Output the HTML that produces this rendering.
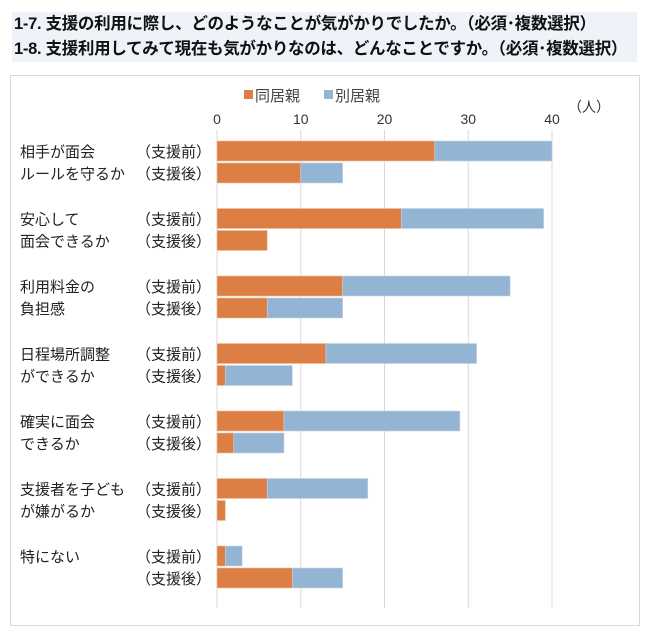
<!DOCTYPE html>
<html><head><meta charset="utf-8"><style>
body{margin:0;width:650px;height:640px;background:#fff;font-family:"Liberation Sans","Noto Sans CJK JP",sans-serif;overflow:hidden}
#title{position:absolute;left:12px;top:12px;width:625px;height:50px;background:#eef3fa}
#title div{font-size:16.5px;font-weight:bold;color:#111;line-height:25px;padding-left:2px;white-space:nowrap;letter-spacing:-0.3px}
#box{position:absolute;left:10px;top:75px;width:630px;height:551px;border:1px solid #d9d9d9;box-sizing:border-box}
svg{position:absolute;left:0;top:0}
</style></head><body>
<div id="title">
<div>1-7. 支援の利用に際し、どのようなことが気がかりでしたか。（必須･複数選択）</div>
<div>1-8. 支援利用してみて現在も気がかりなのは、どんなことですか。（必須･複数選択）</div>
</div>
<div id="box"></div>
<svg id="chart" width="650" height="640"></svg>
<script>
const categories=[["相手が面会","ルールを守るか"],["安心して","面会できるか"],["利用料金の","負担感"],["日程場所調整","ができるか"],["確実に面会","できるか"],["支援者を子ども","が嫌がるか"],["特にない",""]];
const beforeCohabit=[26,22,15,13,8,6,1];
const beforeSeparate=[14,17,20,18,21,12,2];
const afterCohabit=[10,6,6,1,2,1,9];
const afterSeparate=[5,0,9,8,6,0,6];
const ticks=[0,10,20,30,40];
const NS="http://www.w3.org/2000/svg";
const svg=document.getElementById('chart');
const x0=217,ppu=8.375,top0=141,groupH=67.5,barH=20;
const X=v=>x0+v*ppu;
function mk(tag,a){const e=document.createElementNS(NS,tag);for(const k in a)e.setAttribute(k,a[k]);svg.appendChild(e);return e;}
function txt(s,x,y,size,anchor,fill){const t=mk('text',{x:x,y:y,'font-size':size,'text-anchor':anchor||'start',fill:fill||'#222'});t.textContent=s;return t;}
ticks.forEach(t=>{
 const l=mk('line',{x1:X(t),x2:X(t),y1:130,y2:608,stroke:'#d9d9d9','stroke-width':1});
 
 
 const tl=txt(String(t),X(t),124,14,'middle','#333');
 
 
});
const unit=txt('（人）',568,112,14,'start','#333');


const lg1=mk('rect',{x:244,y:90,width:9,height:9,fill:'#dd7e45'});


const lt1=txt('同居親',255,101,15,'start','#444');


const lg2=mk('rect',{x:324,y:90,width:9,height:9,fill:'#93b4d2'});


const lt2=txt('別居親',335,101,15,'start','#444');


function bar(y,a,b,name){
 const r1=mk('rect',{x:X(0),y:y,width:a*ppu,height:barH,fill:'#dd7e45',stroke:'#f0c0a0','stroke-width':0.6});
 
 
 if(b>0){const r2=mk('rect',{x:X(a),y:y,width:b*ppu,height:barH,fill:'#93b4d2',stroke:'#c4d6e8','stroke-width':0.6});
 
 }
}
categories.forEach((c,i)=>{
 const y=top0+i*groupH;
 bar(y,beforeCohabit[i],beforeSeparate[i],'bar-before-'+i);
 bar(y+barH+2,afterCohabit[i],afterSeparate[i],'bar-after-'+i);
 const c1=txt(c[0],20,y+16,15);
 
 
 if(c[1]){const c2=txt(c[1],20,y+38,15);
 
 }
 const b1=txt('（支援前）',211,y+16,15,'end');
 
 
 const b2=txt('（支援後）',211,y+38,15,'end');
 
 
});
</script>
</body></html>
